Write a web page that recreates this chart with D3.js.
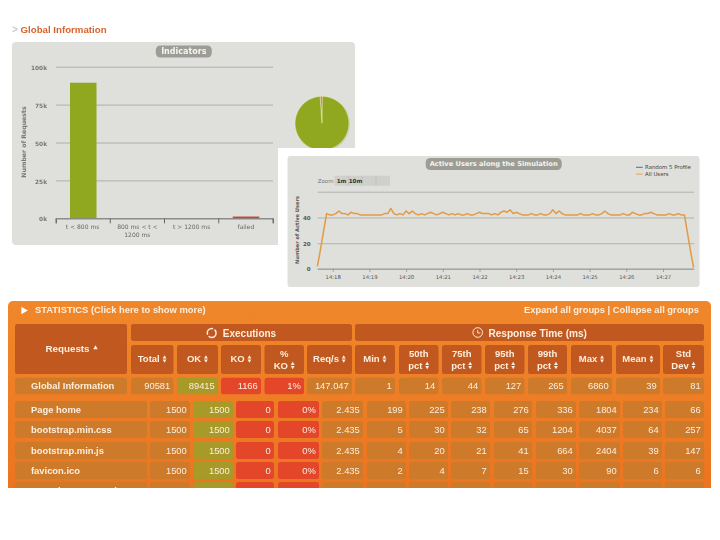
<!DOCTYPE html>
<html>
<head>
<meta charset="utf-8">
<script src="https://cdn.jsdelivr.net/npm/d3@7"></script>
<style>
  html, body { margin: 0; padding: 0; background: #fff; }
  svg { display: block; filter: blur(0.35px); }
  text { font-family: "Liberation Sans", sans-serif; }
  .chart-text { font-family: "DejaVu Sans", sans-serif; }
</style>
</head>
<body>
<div id="chart"></div>
<script>
// Indicators chart
var indicatorLabels = [["t < 800 ms"], ["800 ms < t <", "1200 ms"], ["t > 1200 ms"], ["failed"]];
var indicatorValues = [89415, 0, 0, 1166];
var indicatorColors = ["#8fa81f", "#f0b030", "#e8822a", "#c9463d"];
var indicatorTicks = [0, 25000, 50000, 75000, 100000];

// Active users, one value every 5 seconds from 14:17:35
var usersStart = new Date(2014, 0, 1, 14, 17, 35);
var usersValues = [
  2, 15, 29, 43, 42, 42, 43, 45, 43, 43, 42, 44, 43, 43, 42, 42, 42, 42, 42, 42,
  42, 42, 43, 43, 47, 43, 42, 43, 42, 45, 43, 45, 43, 42, 43, 42, 43, 44, 43, 42,
  43, 44, 43, 42, 43, 42, 43, 42, 42, 43, 42, 42, 43, 44, 43, 43, 43, 42, 43, 42,
  44, 45, 44, 46, 43, 44, 43, 42, 42, 42, 43, 42, 42, 43, 42, 42, 43, 46, 43, 45,
  43, 42, 42, 42, 42, 42, 43, 42, 42, 42, 43, 42, 42, 43, 45, 43, 42, 42, 42, 42,
  43, 42, 42, 44, 43, 42, 42, 43, 43, 44, 43, 42, 42, 42, 42, 43, 42, 42, 43, 42,
  42, 28, 14, 1
];
var usersTicks = [0, 20, 40, 60];
var legendLabels = ["Random 5 Profile", "All Users"];
var legendColors = ["#4d6d96", "#e8a04a"];

// Statistics table
var groupTitles = ["Executions", "Response Time (ms)"];
var columnTitles = [["Total"], ["OK"], ["KO"], ["%", "KO"], ["Req/s"], ["Min"], ["50th", "pct"], ["75th", "pct"],
  ["95th", "pct"], ["99th", "pct"], ["Max"], ["Mean"], ["Std", "Dev"]];
var globalRow = ["Global Information", "90581", "89415", "1166", "1%", "147.047", "1", "14", "44", "127", "265", "6860", "39", "81"];
var requestNames = ["Page home", "bootstrap.min.css", "bootstrap.min.js", "favicon.ico", "jQuery-2.0.3.js"];
var totalValues = ["1500", "1500", "1500", "1500", "1500"];
var okValues = ["1500", "1500", "1500", "1500", "1500"];
var koValues = ["0", "0", "0", "0", "0"];
var koPctValues = ["0%", "0%", "0%", "0%", "0%"];
var reqValues = ["2.435", "2.435", "2.435", "2.435", "2.435"];
var minValues = ["199", "5", "4", "2", "3"];
var pct50Values = ["225", "30", "20", "4", "7"];
var pct75Values = ["238", "32", "21", "7", "8"];
var pct95Values = ["276", "65", "41", "15", "16"];
var pct99Values = ["336", "1204", "664", "30", "33"];
var maxValues = ["1804", "4037", "2404", "90", "128"];
var meanValues = ["234", "64", "39", "6", "8"];
var stdValues = ["66", "257", "147", "6", "7"];

var svg = d3.select("#chart").append("svg")
  .attr("width", 720)
  .attr("height", 540)
  .attr("viewBox", "0 0 720 540");

var defs = svg.append("defs");
var grad = defs.append("linearGradient").attr("id", "tableBg")
  .attr("x1", 0).attr("x2", 0).attr("y1", 0).attr("y2", 1);
grad.append("stop").attr("offset", "0%").attr("stop-color", "#f0872a");
grad.append("stop").attr("offset", "100%").attr("stop-color", "#ec7420");

defs.append("clipPath").attr("id", "tableClip")
  .append("rect").attr("x", 0).attr("y", 295).attr("width", 720).attr("height", 193);

// Page title
svg.append("text").attr("x", 12).attr("y", 33).attr("fill", "#ccc").attr("font-size", 10).attr("font-weight", "bold").text(">");
svg.append("text").attr("x", 20.5).attr("y", 33).attr("fill", "#d9622b").attr("font-size", 9.7).attr("font-weight", "bold").text("Global Information");

// ---------- Indicators panel ----------
svg.append("rect").attr("x", 12).attr("y", 42).attr("width", 343).attr("height", 203).attr("rx", 4).attr("fill", "#dfdfdb");
titleChip(183.8, 51.5, 56, "Indicators", 8);

var barX = d3.scaleBand().domain(d3.range(indicatorLabels.length)).range([56, 273]).paddingInner(0).paddingOuter(0);
var barY = d3.scaleLinear().domain([0, 100000]).range([218.3, 66.7]);

var barYAxis = d3.axisLeft(barY).tickValues(indicatorTicks).tickSize(-217).tickFormat(function(d) { return (d / 1000) + "k"; });
var barYGroup = svg.append("g").attr("class", "chart-text").attr("transform", "translate(56,0)").call(barYAxis);
barYGroup.select(".domain").remove();
barYGroup.selectAll(".tick line").attr("stroke", "#b0b0aa").attr("stroke-width", 1);
barYGroup.selectAll(".tick text").attr("x", -9).attr("dy", "0.45em").attr("fill", "#777").attr("font-size", 5.8).attr("font-weight", "bold").style("font-family", "DejaVu Sans");

svg.append("g").selectAll("rect").data(indicatorValues).join("rect")
  .attr("x", function(d, i) { return barX(i) + 14; })
  .attr("width", 26.5)
  .attr("y", function(d) { return barY(d); })
  .attr("height", function(d) { return barY(0) - barY(d); })
  .attr("fill", function(d, i) { return indicatorColors[i]; });

var barXAxis = d3.axisBottom(barX).tickFormat("").tickSize(5);
var barXGroup = svg.append("g").attr("transform", "translate(0,218.3)").call(barXAxis);
barXGroup.select(".domain").attr("stroke", "#777");
barXGroup.selectAll(".tick").remove();
barXGroup.selectAll(".cat-tick").data(d3.range(indicatorLabels.length + 1)).join("line")
  .attr("x1", function(d) { return 56 + d * barX.bandwidth(); })
  .attr("x2", function(d) { return 56 + d * barX.bandwidth(); })
  .attr("y1", 0).attr("y2", 5).attr("stroke", "#666");

indicatorLabels.forEach(function(lines, i) {
  lines.forEach(function(line, j) {
    svg.append("text").attr("class", "chart-text")
      .attr("x", barX(i) + barX.bandwidth() / 2 + (i == 0 ? -0.5 : 0))
      .attr("y", 229 + j * 7.5)
      .attr("text-anchor", "middle").attr("fill", "#666").attr("font-size", 6)
      .text(line);
  });
});

svg.append("text").attr("class", "chart-text")
  .attr("transform", "translate(26,142) rotate(-90)")
  .attr("text-anchor", "middle").attr("fill", "#777").attr("font-size", 6.2).attr("font-weight", "bold")
  .text("Number of Requests");

// Pie
var pieG = svg.append("g").attr("transform", "translate(322,123.3)");
var pie = d3.pie().sort(null).startAngle(-0.07).endAngle(2 * Math.PI - 0.07);
var pieArc = d3.arc().innerRadius(0).outerRadius(27);
pieG.append("circle").attr("cx", 0.6).attr("cy", 0.6).attr("r", 27.3).attr("fill", "#c5c8a8");
pieG.selectAll("path").data(pie([1166, 89415])).join("path")
  .attr("d", pieArc)
  .attr("fill", function(d, i) { return i == 0 ? "#d8612f" : indicatorColors[0]; })
  .attr("stroke", "#f3f0d8").attr("stroke-width", 0.5);

// White card behind the second chart
svg.append("rect").attr("x", 278).attr("y", 148).attr("width", 442).attr("height", 150).attr("fill", "#fff");

// ---------- Active users panel ----------
svg.append("rect").attr("x", 287.5).attr("y", 156).attr("width", 412).attr("height", 131).attr("rx", 3).attr("fill", "#dfdfdb");
titleChip(493.7, 164, 136, "Active Users along the Simulation", 6.7);

var userX = d3.scaleTime()
  .domain([new Date(2014, 0, 1, 14, 18, 0), new Date(2014, 0, 1, 14, 27, 0)])
  .range([332.7, 663]);
var userY = d3.scaleLinear().domain([0, 60]).range([269, 191.7]);

var userYAxis = d3.axisLeft(userY).tickValues(usersTicks).tickSize(-376.5).tickFormat(function(d) { return d == 60 ? "" : d; });
var userYGroup = svg.append("g").attr("class", "chart-text").attr("transform", "translate(317.7,0)").call(userYAxis);
userYGroup.select(".domain").remove();
userYGroup.selectAll(".tick line").attr("stroke", "#a8a8a2").attr("stroke-width", 0.8);
userYGroup.selectAll(".tick text").attr("x", -7).attr("dy", "0.35em").attr("fill", "#555").attr("font-size", 5.5).attr("font-weight", "bold").style("font-family", "DejaVu Sans");

var userXAxis = d3.axisBottom(userX).ticks(d3.timeMinute.every(1)).tickFormat(d3.timeFormat("%H:%M")).tickSize(3);
var userXGroup = svg.append("g").attr("class", "chart-text").attr("transform", "translate(0,269)").call(userXAxis);
userXGroup.select(".domain").remove();
userXGroup.append("line").attr("x1", 317.7).attr("x2", 694.2).attr("stroke", "#999").attr("stroke-width", 1);
userXGroup.selectAll(".tick line").attr("stroke", "#777").attr("stroke-width", 0.6);
userXGroup.selectAll(".tick text").attr("y", 6).attr("fill", "#555").attr("font-size", 5.3).style("font-family", "DejaVu Sans");

var userLine = d3.line()
  .x(function(d, i) { return userX(d3.timeSecond.offset(usersStart, i * 5)); })
  .y(function(d) { return userY(d); });
svg.append("path").datum(usersValues)
  .attr("d", userLine).attr("fill", "none").attr("stroke", "#e39a45").attr("stroke-width", 1.5).attr("stroke-linejoin", "round");

svg.append("text").attr("class", "chart-text").attr("transform", "translate(299,230) rotate(-90)")
  .attr("text-anchor", "middle").attr("fill", "#555").attr("font-size", 5.1).attr("font-weight", "bold").text("Number of Active Users");

// Zoom buttons
svg.append("text").attr("class", "chart-text").attr("x", 317.7).attr("y", 182.7).attr("fill", "#777").attr("font-size", 5.5).text("Zoom");
svg.append("rect").attr("x", 334.5).attr("y", 175.7).attr("width", 55.5).attr("height", 10).attr("fill", "#cfcfcb");
[348.5, 362, 376].forEach(function(x) {
  svg.append("line").attr("x1", x).attr("x2", x).attr("y1", 175.7).attr("y2", 185.7).attr("stroke", "#bbb").attr("stroke-width", 0.6);
});
svg.append("text").attr("class", "chart-text").attr("x", 341.5).attr("y", 182.7).attr("text-anchor", "middle").attr("fill", "#333").attr("font-size", 5.6).attr("font-weight", "bold").text("1m");
svg.append("text").attr("class", "chart-text").attr("x", 355.5).attr("y", 182.7).attr("text-anchor", "middle").attr("fill", "#333").attr("font-size", 5.6).attr("font-weight", "bold").text("10m");

// Legend
legendLabels.forEach(function(label, i) {
  var y = 167.3 + i * 6.8;
  svg.append("line").attr("x1", 636).attr("x2", 642.7).attr("y1", y).attr("y2", y).attr("stroke", legendColors[i]).attr("stroke-width", 1);
  svg.append("text").attr("class", "chart-text").attr("x", 645).attr("y", y + 1.9).attr("fill", "#444").attr("font-size", 5.4).text(label);
});

// ---------- Statistics table ----------
var headFill = "#c0581f", bodyFill = "#cd7a2a", okFill = "#a89a28", koFill = "#e4462a";
var headText = "#fdeedd";
var table = svg.append("g").attr("clip-path", "url(#tableClip)");

table.append("path")
  .attr("d", "M8,490V306a5,5 0 0 1 5,-5H706a5,5 0 0 1 5,5V490Z")
  .attr("fill", "url(#tableBg)");

table.append("path").attr("d", d3.symbol().type(d3.symbolTriangle).size(24)())
  .attr("transform", "translate(23.5,310.5) rotate(90)").attr("fill", "#fff");
tableText(35, 313.3, "STATISTICS (Click here to show more)", 9.4, "start", headText);
tableText(699, 313.3, "Expand all groups | Collapse all groups", 9.35, "end", headText);

// header cells
var headEdges = [[131, 173.5], [177, 218], [221, 261], [264.5, 304], [307, 352], [355, 395], [399, 438.5], [442, 481.5],
  [485, 524.5], [528, 567], [571, 612], [616, 660], [663, 704]];
var rowEdges = [[150, 190], [193.5, 233], [236, 274], [278, 319], [322, 363], [367, 406], [409, 448], [451, 490],
  [494, 532], [536, 576], [579, 620], [623, 662], [665, 704]];
var rowTops = [401, 421, 442, 462, 482];

cell(15, 324, 112, 50, headFill);
tableText(67.5, 352, "Requests", 9.8, "middle", headText);
table.append("path").attr("d", d3.symbol().type(d3.symbolTriangle).size(9)())
  .attr("transform", "translate(95.5,348)").attr("fill", headText);

cell(131, 324, 221, 17, headFill);
cell(355, 324, 349, 17, headFill);
tableText(249.5, 336.5, groupTitles[0], 10, "middle", headText);
tableText(537.7, 336.5, groupTitles[1], 10.1, "middle", headText);

// reload icon
table.append("circle").attr("cx", 211.7).attr("cy", 333).attr("r", 4.4).attr("fill", "none").attr("stroke", headText).attr("stroke-width", 1.5).attr("stroke-dasharray", "10 1.6");
// clock icon
table.append("circle").attr("cx", 477.7).attr("cy", 332.5).attr("r", 4.8).attr("fill", "none").attr("stroke", headText).attr("stroke-width", 1);
table.append("path").attr("d", "M477.7,330V333H480.4").attr("fill", "none").attr("stroke", headText).attr("stroke-width", 0.9);

columnTitles.forEach(function(lines, i) {
  var e = headEdges[i];
  cell(e[0], 345, e[1] - e[0], 29, headFill);
  var mid = (e[0] + e[1]) / 2;
  if (lines.length == 1) {
    var t = tableText(mid - 3.5, 362.3, lines[0], 9.5, "middle", headText);
    sortIcon(mid - 3.5 + t.node().getComputedTextLength() / 2 + 4.8, 359);
  } else {
    tableText(mid, 357, lines[0], 9.5, "middle", headText);
    var t2 = tableText(mid - 3.5, 368.7, lines[1], 9.5, "middle", headText);
    sortIcon(mid - 3.5 + t2.node().getComputedTextLength() / 2 + 4.8, 365.5);
  }
});

// global row
cell(15, 377.7, 112, 16.5, bodyFill);
tableText(31, 389, globalRow[0], 9.4, "start", headText);
globalRow.slice(1).forEach(function(v, i) {
  var e = headEdges[i];
  cell(e[0], 377.7, e[1] - e[0], 16.5, i == 1 ? okFill : (i == 2 || i == 3) ? koFill : bodyFill);
  tableText(e[1] - 3.2, 389, v, 9.4, "end", headText, "normal");
});

// request rows
var rowColumns = [totalValues, okValues, koValues, koPctValues, reqValues, minValues, pct50Values, pct75Values,
  pct95Values, pct99Values, maxValues, meanValues, stdValues];
requestNames.forEach(function(name, r) {
  var top = rowTops[r];
  cell(15, top, 132, 17, bodyFill);
  tableText(r == 4 ? 58 : 31, top + 12, name, 9.4, "start", headText);
  rowColumns.forEach(function(col, i) {
    var e = rowEdges[i];
    cell(e[0], top, e[1] - e[0], 17, i == 1 ? okFill : (i == 2 || i == 3) ? koFill : bodyFill);
    tableText(e[1] - 3.2, top + 12, col[r], 9.4, "end", headText, "normal");
  });
});

function cell(x, y, w, h, fill) {
  table.append("rect").attr("x", x).attr("y", y).attr("width", w).attr("height", h).attr("rx", 2.5).attr("fill", fill);
}

function tableText(x, y, str, size, anchor, fill, weight) {
  return table.append("text").attr("x", x).attr("y", y).attr("text-anchor", anchor).attr("fill", fill)
    .attr("font-size", size).attr("font-weight", weight || "bold").text(str);
}

function sortIcon(x, y) {
  var tri = d3.symbol().type(d3.symbolTriangle).size(6.5)();
  table.append("path").attr("d", tri).attr("transform", "translate(" + x + "," + (y - 1.6) + ")").attr("fill", headText);
  table.append("path").attr("d", tri).attr("transform", "translate(" + x + "," + (y + 1.6) + ") rotate(180)").attr("fill", headText);
}

function titleChip(cx, cy, w, str, size) {
  svg.append("rect").attr("x", cx - w / 2).attr("y", cy - 6).attr("width", w).attr("height", 12).attr("rx", 4.5).attr("fill", "#9d9d96");
  svg.append("text").attr("class", "chart-text").attr("x", cx).attr("y", cy + size * 0.36)
    .attr("text-anchor", "middle").attr("fill", "#f4f4f0").attr("font-size", size).attr("font-weight", "bold").text(str);
}
</script>
</body>
</html>
